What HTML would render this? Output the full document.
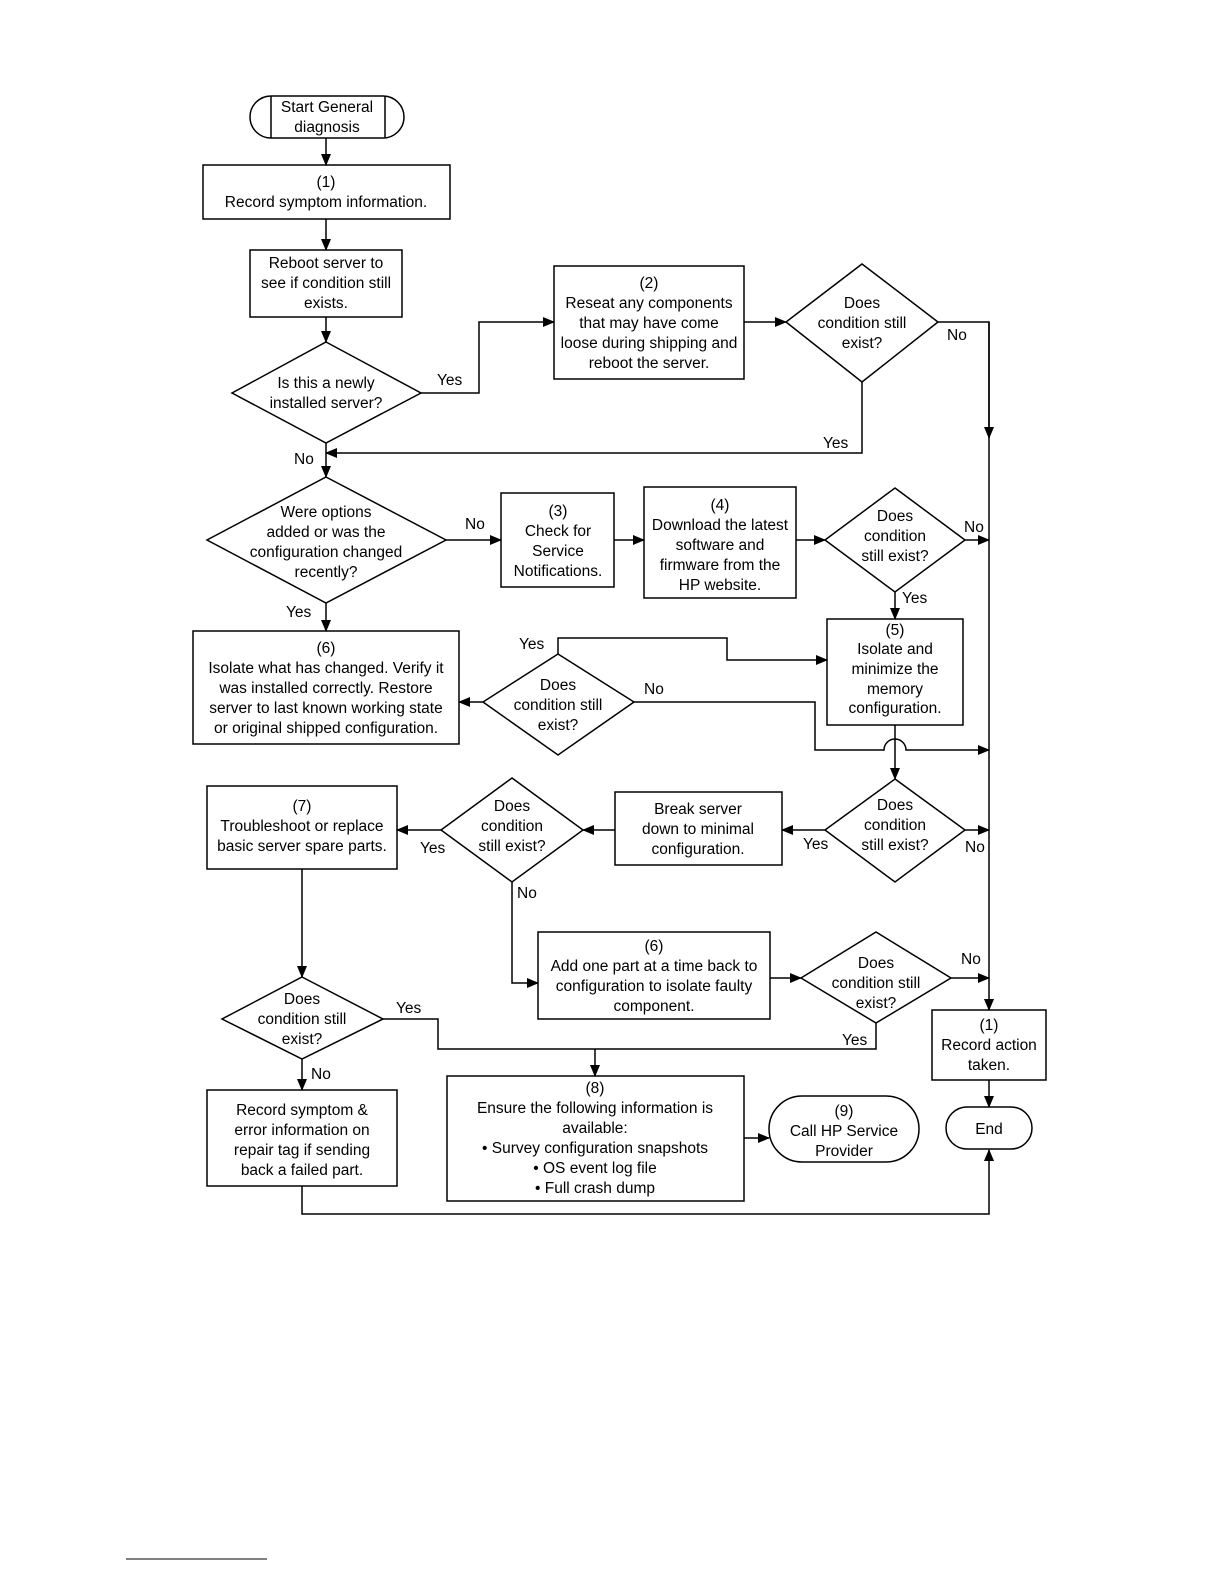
<!DOCTYPE html>
<html><head><meta charset="utf-8"><style>
html,body{margin:0;padding:0;background:#fff}
svg{display:block}
text{font-family:"Liberation Sans",Arial,sans-serif;font-size:15.5px;fill:#000}
.c{text-anchor:middle}
</style></head><body>
<svg width="1224" height="1584" viewBox="0 0 1224 1584" xmlns="http://www.w3.org/2000/svg">
<defs><marker id="a" markerWidth="12" markerHeight="10" refX="11" refY="5" orient="auto" markerUnits="userSpaceOnUse"><path d="M0,0 L12,5 L0,10 Z" fill="#000"/></marker></defs>
<g fill="none" stroke="#000" stroke-width="1.5">
<!-- start -->
<path d="M271,96 H383 A21,21 0 0 1 383,138 H271 A21,21 0 0 1 271,96 Z"/>
<line x1="271" y1="96" x2="271" y2="138"/><line x1="385" y1="96" x2="385" y2="138"/>
<line x1="326" y1="138" x2="326" y2="165" marker-end="url(#a)"/>
<rect x="203" y="165" width="247" height="54"/>
<line x1="326" y1="219" x2="326" y2="250" marker-end="url(#a)"/>
<rect x="250" y="250" width="152" height="67"/>
<line x1="326" y1="317" x2="326" y2="342" marker-end="url(#a)"/>
<polygon points="326,342 421,393 326,443 232,393"/>
<polyline points="421,393 479,393 479,322 554,322" marker-end="url(#a)"/>
<rect x="554" y="266" width="190" height="113"/>
<line x1="744" y1="322" x2="786" y2="322" marker-end="url(#a)"/>
<polygon points="862,264 938,322 862,382 786,322"/>
<polyline points="938,322 989,322 989,1010" marker-end="url(#a)"/>
<line x1="989" y1="322" x2="989" y2="438" marker-end="url(#a)"/>
<polyline points="862,382 862,453 326,453" marker-end="url(#a)"/>
<line x1="326" y1="443" x2="326" y2="477" marker-end="url(#a)"/>
<polygon points="326,477 446,540 326,603 207,540"/>
<line x1="446" y1="540" x2="501" y2="540" marker-end="url(#a)"/>
<rect x="501" y="493" width="113" height="94"/>
<line x1="614" y1="540" x2="644" y2="540" marker-end="url(#a)"/>
<rect x="644" y="487" width="152" height="111"/>
<line x1="796" y1="540" x2="825" y2="540" marker-end="url(#a)"/>
<polygon points="895,488 965,540 895,592 825,540"/>
<line x1="965" y1="540" x2="989" y2="540" marker-end="url(#a)"/>
<line x1="895" y1="592" x2="895" y2="619" marker-end="url(#a)"/>
<rect x="827" y="619" width="136" height="106"/>
<line x1="895" y1="725" x2="895" y2="779" marker-end="url(#a)"/>
<line x1="326" y1="603" x2="326" y2="631" marker-end="url(#a)"/>
<rect x="193" y="631" width="266" height="113"/>
<polygon points="558,654 634,702 558,755 483,702"/>
<line x1="483" y1="702" x2="459" y2="702" marker-end="url(#a)"/>
<polyline points="558,654 558,638 727,638 727,660 827,660" marker-end="url(#a)"/>
<path d="M634,702 H815 V750 H884 A11,11 0 0 1 906,750 H989" marker-end="url(#a)"/>
<polygon points="895,779 965,830 895,882 825,830"/>
<line x1="965" y1="830" x2="989" y2="830" marker-end="url(#a)"/>
<line x1="825" y1="830" x2="782" y2="830" marker-end="url(#a)"/>
<rect x="615" y="792" width="167" height="73"/>
<line x1="615" y1="830" x2="583" y2="830" marker-end="url(#a)"/>
<polygon points="512,778 583,830 512,882 441,830"/>
<line x1="441" y1="830" x2="397" y2="830" marker-end="url(#a)"/>
<rect x="207" y="786" width="190" height="83"/>
<polyline points="512,882 512,983 538,983" marker-end="url(#a)"/>
<rect x="538" y="932" width="232" height="87"/>
<line x1="770" y1="978" x2="801" y2="978" marker-end="url(#a)"/>
<polygon points="876,932 951,978 876,1023 801,978"/>
<line x1="951" y1="978" x2="989" y2="978" marker-end="url(#a)"/>
<polyline points="876,1023 876,1049 438,1049 438,1019 383,1019"/>
<line x1="595" y1="1049" x2="595" y2="1076" marker-end="url(#a)"/>
<line x1="302" y1="869" x2="302" y2="977" marker-end="url(#a)"/>
<polygon points="302,977 383,1019 302,1059 222,1019"/>
<line x1="302" y1="1059" x2="302" y2="1090" marker-end="url(#a)"/>
<rect x="207" y="1090" width="190" height="96"/>
<polyline points="302,1186 302,1214 989,1214 989,1150" marker-end="url(#a)"/>
<rect x="447" y="1076" width="297" height="125"/>
<line x1="744" y1="1138" x2="769" y2="1138" marker-end="url(#a)"/>
<path d="M802,1096 H886 A33,33 0 0 1 886,1162 H802 A33,33 0 0 1 802,1096 Z"/>
<rect x="932" y="1010" width="114" height="70"/>
<line x1="989" y1="1080" x2="989" y2="1107" marker-end="url(#a)"/>
<path d="M967,1107 H1011 A21,21 0 0 1 1011,1149 H967 A21,21 0 0 1 967,1107 Z"/>
<line x1="126" y1="1559" x2="267" y2="1559" stroke-width="1"/>
</g>
<g>
<text class="c" x="327" y="112">Start General</text><text class="c" x="327" y="132">diagnosis</text>
<text class="c" x="326" y="187">(1)</text><text class="c" x="326" y="207">Record symptom information.</text>
<text class="c" x="326" y="268">Reboot server to</text><text class="c" x="326" y="288">see if condition still</text><text class="c" x="326" y="308">exists.</text>
<text class="c" x="326" y="388">Is this a newly</text><text class="c" x="326" y="408">installed server?</text>
<text x="437" y="385">Yes</text>
<text class="c" x="649" y="288">(2)</text><text class="c" x="649" y="308">Reseat any components</text><text class="c" x="649" y="328">that may have come</text><text class="c" x="649" y="348">loose during shipping and</text><text class="c" x="649" y="368">reboot the server.</text>
<text class="c" x="862" y="308">Does</text><text class="c" x="862" y="328">condition still</text><text class="c" x="862" y="348">exist?</text>
<text x="947" y="340">No</text><text x="823" y="448">Yes</text>
<text x="294" y="464">No</text>
<text class="c" x="326" y="517">Were options</text><text class="c" x="326" y="537">added or was the</text><text class="c" x="326" y="557">configuration changed</text><text class="c" x="326" y="577">recently?</text>
<text x="465" y="529">No</text>
<text class="c" x="558" y="516">(3)</text><text class="c" x="558" y="536">Check for</text><text class="c" x="558" y="556">Service</text><text class="c" x="558" y="576">Notifications.</text>
<text class="c" x="720" y="510">(4)</text><text class="c" x="720" y="530">Download the latest</text><text class="c" x="720" y="550">software and</text><text class="c" x="720" y="570">firmware from the</text><text class="c" x="720" y="590">HP website.</text>
<text class="c" x="895" y="521">Does</text><text class="c" x="895" y="541">condition</text><text class="c" x="895" y="561">still exist?</text>
<text x="964" y="532">No</text><text x="902" y="603">Yes</text>
<text class="c" x="895" y="635">(5)</text><text class="c" x="895" y="654">Isolate and</text><text class="c" x="895" y="674">minimize the</text><text class="c" x="895" y="694">memory</text><text class="c" x="895" y="713">configuration.</text>
<text x="286" y="617">Yes</text>
<text class="c" x="326" y="653">(6)</text><text class="c" x="326" y="673">Isolate what has changed. Verify it</text><text class="c" x="326" y="693">was installed correctly.  Restore</text><text class="c" x="326" y="713">server to last known working state</text><text class="c" x="326" y="733">or original shipped configuration.</text>
<text x="519" y="649">Yes</text>
<text class="c" x="558" y="690">Does</text><text class="c" x="558" y="710">condition still</text><text class="c" x="558" y="730">exist?</text>
<text x="644" y="694">No</text>
<text class="c" x="895" y="810">Does</text><text class="c" x="895" y="830">condition</text><text class="c" x="895" y="850">still exist?</text>
<text x="965" y="852">No</text><text x="803" y="849">Yes</text>
<text class="c" x="698" y="814">Break server</text><text class="c" x="698" y="834">down to minimal</text><text class="c" x="698" y="854">configuration.</text>
<text class="c" x="512" y="811">Does</text><text class="c" x="512" y="831">condition</text><text class="c" x="512" y="851">still exist?</text>
<text x="420" y="853">Yes</text><text x="517" y="898">No</text>
<text class="c" x="302" y="811">(7)</text><text class="c" x="302" y="831">Troubleshoot or replace</text><text class="c" x="302" y="851">basic server spare parts.</text>
<text class="c" x="654" y="951">(6)</text><text class="c" x="654" y="971">Add one part at a time back to</text><text class="c" x="654" y="991">configuration to isolate faulty</text><text class="c" x="654" y="1011">component.</text>
<text class="c" x="876" y="968">Does</text><text class="c" x="876" y="988">condition still</text><text class="c" x="876" y="1008">exist?</text>
<text x="961" y="964">No</text><text x="842" y="1045">Yes</text>
<text class="c" x="302" y="1004">Does</text><text class="c" x="302" y="1024">condition still</text><text class="c" x="302" y="1044">exist?</text>
<text x="396" y="1013">Yes</text><text x="311" y="1079">No</text>
<text class="c" x="302" y="1115">Record symptom &amp;</text><text class="c" x="302" y="1135">error information on</text><text class="c" x="302" y="1155">repair tag if sending</text><text class="c" x="302" y="1175">back a failed part.</text>
<text class="c" x="595" y="1093">(8)</text><text class="c" x="595" y="1113">Ensure the following information is</text><text class="c" x="595" y="1133">available:</text><text class="c" x="595" y="1153">• Survey configuration snapshots</text><text class="c" x="595" y="1173">• OS event log file</text><text class="c" x="595" y="1193">• Full crash dump</text>
<text class="c" x="844" y="1116">(9)</text><text class="c" x="844" y="1136">Call HP Service</text><text class="c" x="844" y="1156">Provider</text>
<text class="c" x="989" y="1030">(1)</text><text class="c" x="989" y="1050">Record action</text><text class="c" x="989" y="1070">taken.</text>
<text class="c" x="989" y="1134">End</text>
</g>
</svg>
</body></html>
